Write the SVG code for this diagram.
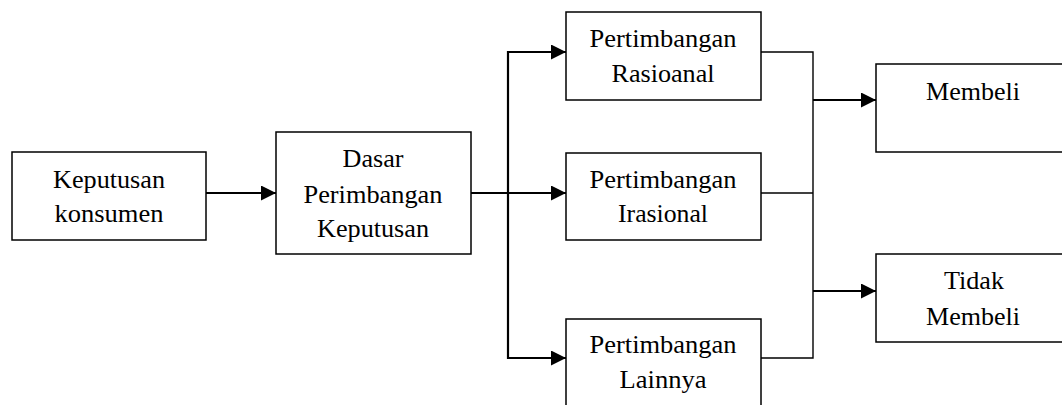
<svg xmlns="http://www.w3.org/2000/svg" width="1062" height="405" viewBox="0 0 1062 405">
<style>
.box{fill:#fff;stroke:#000;stroke-width:1.5}
.t{font-family:"Liberation Serif","Times New Roman",serif;font-size:25px;fill:#000;text-anchor:middle}
.c{fill:none;stroke:#000;stroke-width:2.2}
.thin{fill:none;stroke:#000;stroke-width:1.4}
</style>
<defs>
<marker id="ah" markerUnits="userSpaceOnUse" markerWidth="15" markerHeight="15" refX="15" refY="7.5" orient="auto">
<path d="M0,0 L15,7.5 L0,15 Z" fill="#000"/>
</marker>
</defs>
<rect width="1062" height="405" fill="#fff"/>
<g id="connectors">
<line class="c" x1="206" y1="193" x2="276" y2="193" marker-end="url(#ah)"/>
<line class="c" x1="471" y1="193" x2="566" y2="193" marker-end="url(#ah)"/>
<line class="c" x1="508" y1="51" x2="508" y2="359"/>
<line class="c" x1="507" y1="52" x2="566" y2="52" marker-end="url(#ah)"/>
<line class="c" x1="507" y1="358" x2="566" y2="358" marker-end="url(#ah)"/>
<polyline class="thin" points="761,52 813,52 813,358 761,358"/>
<line class="thin" x1="761" y1="193" x2="813" y2="193"/>
<line class="c" x1="813" y1="100" x2="876" y2="100" marker-end="url(#ah)"/>
<line class="c" x1="813" y1="291" x2="876" y2="291" marker-end="url(#ah)"/>
</g>
<g id="n1">
<rect class="box" x="12" y="152" width="194" height="88"/>
<text class="t" x="109" y="188" textLength="112" lengthAdjust="spacingAndGlyphs">Keputusan</text>
<text class="t" x="109" y="222" textLength="109" lengthAdjust="spacingAndGlyphs">konsumen</text>
</g>
<g id="n2">
<rect class="box" x="276" y="132" width="195" height="122"/>
<text class="t" x="373" y="167" textLength="61" lengthAdjust="spacingAndGlyphs">Dasar</text>
<text class="t" x="373" y="203" textLength="139" lengthAdjust="spacingAndGlyphs">Perimbangan</text>
<text class="t" x="373" y="237" textLength="112" lengthAdjust="spacingAndGlyphs">Keputusan</text>
</g>
<g id="n3">
<rect class="box" x="566" y="12" width="195" height="88"/>
<text class="t" x="663" y="47" textLength="147" lengthAdjust="spacingAndGlyphs">Pertimbangan</text>
<text class="t" x="663" y="82" textLength="103" lengthAdjust="spacingAndGlyphs">Rasioanal</text>
</g>
<g id="n4">
<rect class="box" x="566" y="153" width="195" height="87"/>
<text class="t" x="663" y="188" textLength="147" lengthAdjust="spacingAndGlyphs">Pertimbangan</text>
<text class="t" x="663" y="222" textLength="90" lengthAdjust="spacingAndGlyphs">Irasional</text>
</g>
<g id="n5">
<rect class="box" x="566" y="319" width="195" height="120"/>
<text class="t" x="663" y="353" textLength="147" lengthAdjust="spacingAndGlyphs">Pertimbangan</text>
<text class="t" x="663" y="388" textLength="87" lengthAdjust="spacingAndGlyphs">Lainnya</text>
</g>
<g id="n6">
<rect class="box" x="876" y="64" width="200" height="88"/>
<text class="t" x="973" y="100" textLength="94" lengthAdjust="spacingAndGlyphs">Membeli</text>
</g>
<g id="n7">
<rect class="box" x="876" y="254" width="200" height="88"/>
<text class="t" x="974" y="289" textLength="60" lengthAdjust="spacingAndGlyphs">Tidak</text>
<text class="t" x="973" y="325" textLength="94" lengthAdjust="spacingAndGlyphs">Membeli</text>
</g>
</svg>
